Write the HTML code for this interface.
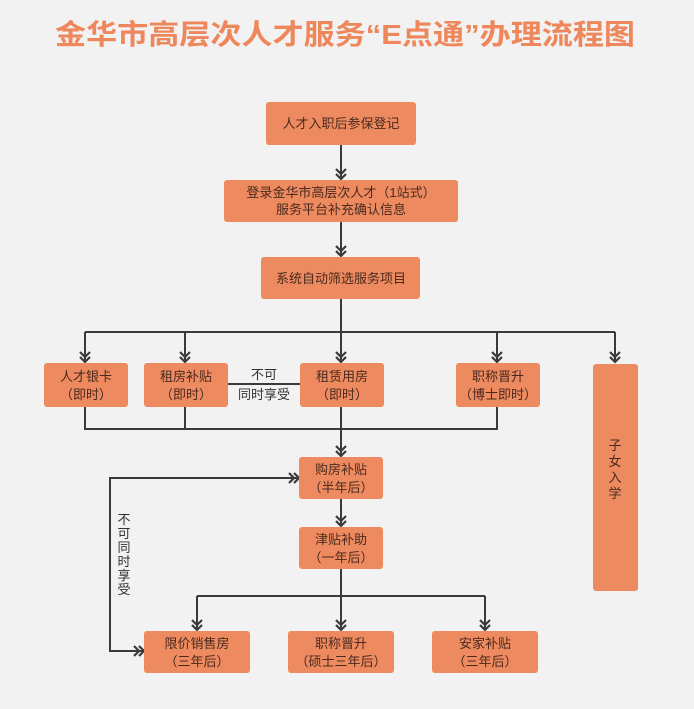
<!DOCTYPE html>
<html><head><meta charset="utf-8"><style>
html,body{margin:0;padding:0;background:#f2f2f2;}
svg{display:block;}
text{font-family:"Liberation Sans","Noto Sans CJK SC",sans-serif;}
.b{fill:#ee8a5f;}
.t{font-size:13px;fill:#4a2a1e;text-anchor:middle;}
.l{stroke:#3a3a3a;stroke-width:2;fill:none;}
.a{stroke:#3a3a3a;stroke-width:2.2;fill:none;}
</style></head><body>
<svg width="694" height="709" viewBox="0 0 694 709" xmlns="http://www.w3.org/2000/svg">
<rect width="694" height="709" fill="#f2f2f2"/>
<text x="345" y="44" text-anchor="middle" font-size="28" font-weight="bold" fill="#ef875c" textLength="580" lengthAdjust="spacingAndGlyphs">金华市高层次人才服务“E点通”办理流程图</text>

<defs>
<g id="dn"><path class="a" d="M-5,-10 L0,-5 L5,-10 M-5,-5 L0,0 L5,-5"/></g>
<g id="rt"><path class="a" d="M-10,-5 L-5,0 L-10,5 M-5,-5 L0,0 L-5,5"/></g>
</defs>

<!-- lines -->
<path class="l" d="M341,145 V179 M341,222 V256 M341,299 V362"/>
<path class="l" d="M85,332 H615 M85,332 V362 M185,332 V362 M497,332 V362 M615,332 V362"/>
<path class="l" d="M85,407 V429 H497 V407 M185,407 V429 M341,407 V456"/>
<path class="l" d="M228,384 H300"/>
<path class="l" d="M341,499 V526 M341,569 V630 M197,596 H485 M197,596 V630 M485,596 V630"/>
<path class="l" d="M298,478 H110 V651 H143"/>

<use href="#dn" x="341" y="179"/><use href="#dn" x="341" y="256"/>
<use href="#dn" x="85" y="362"/><use href="#dn" x="185" y="362"/><use href="#dn" x="341" y="362"/><use href="#dn" x="497" y="362"/><use href="#dn" x="615" y="362"/>
<use href="#dn" x="341" y="456"/><use href="#dn" x="341" y="526"/>
<use href="#dn" x="197" y="630"/><use href="#dn" x="341" y="630"/><use href="#dn" x="485" y="630"/>
<use href="#rt" x="299" y="478"/><use href="#rt" x="144" y="651"/>

<!-- boxes -->
<rect class="b" x="266" y="102" width="150" height="43" rx="3"/>
<text class="t" x="341" y="128">人才入职后参保登记</text>
<rect class="b" x="224" y="180" width="234" height="42" rx="3"/>
<text class="t" x="341" y="197">登录金华市高层次人才（1站式）</text>
<text class="t" x="341" y="214">服务平台补充确认信息</text>
<rect class="b" x="261" y="257" width="159" height="42" rx="3"/>
<text class="t" x="341" y="283">系统自动筛选服务项目</text>

<rect class="b" x="44" y="363" width="84" height="44" rx="3"/>
<text class="t" x="86" y="381">人才银卡</text><text class="t" x="86" y="399">（即时）</text>
<rect class="b" x="144" y="363" width="84" height="44" rx="3"/>
<text class="t" x="186" y="381">租房补贴</text><text class="t" x="186" y="399">（即时）</text>
<rect class="b" x="300" y="363" width="84" height="44" rx="3"/>
<text class="t" x="342" y="381">租赁用房</text><text class="t" x="342" y="399">（即时）</text>
<rect class="b" x="456" y="363" width="84" height="44" rx="3"/>
<text class="t" x="498" y="381">职称晋升</text><text class="t" x="498" y="399">（博士即时）</text>
<rect class="b" x="593" y="364" width="45" height="227" rx="3"/>
<text class="t" x="615" y="450">子</text><text class="t" x="615" y="466">女</text><text class="t" x="615" y="482">入</text><text class="t" x="615" y="498">学</text>

<text x="264" y="379" font-size="13" fill="#333" text-anchor="middle">不可</text>
<text x="264" y="399" font-size="13" fill="#333" text-anchor="middle">同时享受</text>

<rect class="b" x="299" y="457" width="84" height="42" rx="3"/>
<text class="t" x="341" y="474">购房补贴</text><text class="t" x="341" y="492">（半年后）</text>
<rect class="b" x="299" y="527" width="84" height="42" rx="3"/>
<text class="t" x="341" y="544">津贴补助</text><text class="t" x="341" y="562">（一年后）</text>

<g font-size="13" fill="#333" text-anchor="middle">
<text x="124" y="524">不</text><text x="124" y="538">可</text><text x="124" y="552">同</text><text x="124" y="566">时</text><text x="124" y="580">享</text><text x="124" y="594">受</text>
</g>

<rect class="b" x="144" y="631" width="106" height="42" rx="3"/>
<text class="t" x="197" y="648">限价销售房</text><text class="t" x="197" y="666">（三年后）</text>
<rect class="b" x="288" y="631" width="106" height="42" rx="3"/>
<text class="t" x="341" y="648">职称晋升</text><text class="t" x="341" y="666">（硕士三年后）</text>
<rect class="b" x="432" y="631" width="106" height="42" rx="3"/>
<text class="t" x="485" y="648">安家补贴</text><text class="t" x="485" y="666">（三年后）</text>
</svg>
</body></html>
